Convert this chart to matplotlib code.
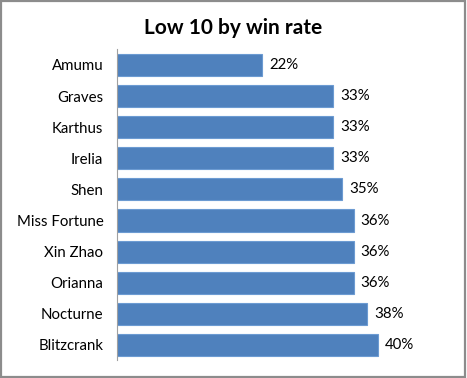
import matplotlib.pyplot as plt
from matplotlib.patches import Rectangle

champions = ["Amumu", "Graves", "Karthus", "Irelia", "Shen",
             "Miss Fortune", "Xin Zhao", "Orianna", "Nocturne", "Blitzcrank"]
win_rate = [22.2, 33.2, 33.2, 33.1, 34.6, 36.3, 36.3, 36.3, 38.4, 40.0]
labels = ["22%", "33%", "33%", "33%", "35%", "36%", "36%", "36%", "38%", "40%"]

plt.rcParams["font.family"] = ["Lato", "DejaVu Sans"]

fig = plt.figure(figsize=(4.67, 3.78), dpi=100)
ax = fig.add_axes([0.2512, 0.0463, 0.627, 0.823])

ypos = list(range(len(champions)))
ax.barh(ypos, win_rate, height=0.71, color="#4f81bd",
        edgecolor="#6c9bd2", linewidth=0.8)

for y, v, lab in zip(ypos, win_rate, labels):
    ax.text(v + 1.1, y, lab, va="center", ha="left", fontsize=10.8, color="#000000")

ax.set_xlim(0, 45)
ax.set_ylim(len(champions) - 0.5, -0.5)
ax.set_yticks(ypos)
ax.set_yticklabels(champions, fontsize=10.8)
ax.tick_params(axis="y", length=0, pad=10)
ax.set_xticks([])

for side in ["top", "right", "bottom"]:
    ax.spines[side].set_visible(False)
ax.spines["left"].set_color("#a0a0a0")
ax.spines["left"].set_linewidth(0.8)

fig.text(0.5, 0.925, "Low 10 by win rate", ha="center", va="center",
         fontsize=15, fontweight="bold")

fig.patches.append(Rectangle((0.002, 0.003), 0.994, 0.994, transform=fig.transFigure,
                             fill=False, edgecolor="#8c8c8c", linewidth=1.6))

fig.savefig("out.png", dpi=100)
